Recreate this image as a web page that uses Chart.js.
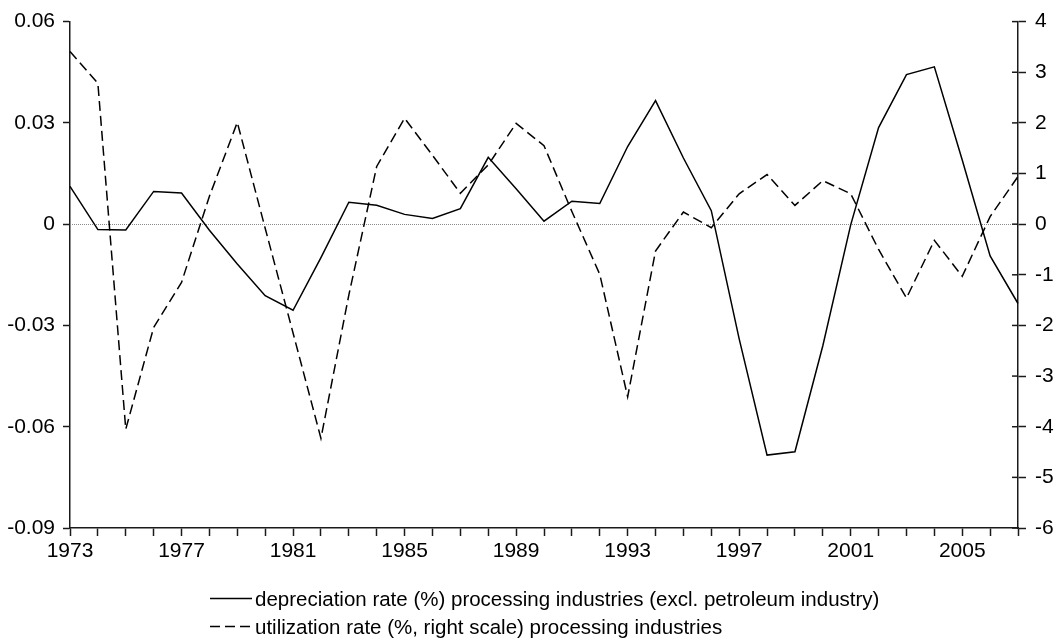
<!DOCTYPE html>
<html>
<head>
<meta charset="utf-8">
<title>Depreciation and utilization rates, processing industries</title>
<script src="https://cdn.jsdelivr.net/npm/chart.js@4.4.1/dist/chart.umd.min.js"></script>
<style>
  html, body { margin: 0; padding: 0; background: #fff; }
  #wrap { position: relative; width: 1055px; height: 639px; }
</style>
</head>
<body>
<div id="wrap"><canvas id="chart"></canvas></div>
<script>
// Years on the horizontal axis
const years = [1973, 1974, 1975, 1976, 1977, 1978, 1979, 1980, 1981, 1982,
               1983, 1984, 1985, 1986, 1987, 1988, 1989, 1990, 1991, 1992,
               1993, 1994, 1995, 1996, 1997, 1998, 1999, 2000, 2001, 2002,
               2003, 2004, 2005, 2006, 2007];

// Depreciation rate, processing industries excl. petroleum (left scale)
const depreciation = [0.0112, -0.0016, -0.0017, 0.0097, 0.0092, -0.0018, -0.0118, -0.0212, -0.0255, -0.0099,
                      0.0065, 0.0056, 0.0029, 0.0017, 0.0046, 0.0198, 0.0105, 0.0009, 0.0068, 0.0061,
                      0.0230, 0.0366, 0.0196, 0.0040, -0.0340, -0.0684, -0.0674, -0.0360, -0.0002, 0.0286,
                      0.0443, 0.0466, 0.0190, -0.0094, -0.0235];

// Utilization rate in %, processing industries (right scale)
const utilization = [3.41, 2.78, -4.05, -2.04, -1.15, 0.55, 2.01, -0.08, -2.15, -4.23,
                     -1.40, 1.14, 2.09, 1.36, 0.61, 1.17, 1.99, 1.55, 0.25, -0.99,
                     -3.41, -0.53, 0.24, -0.07, 0.60, 0.98, 0.37, 0.86, 0.60, -0.50,
                     -1.46, -0.32, -1.03, 0.15, 0.94];

// Axis ranges and tick steps
const leftTicks = { min: -0.09, max: 0.06, step: 0.03 };
const rightTicks = { min: -6, max: 4, step: 1 };
const labelEvery = 4;

const seriesNames = [
  'depreciation rate (%) processing industries (excl. petroleum industry)',
  'utilization rate (%, right scale) processing industries'
];

const FONT = "'Liberation Sans', Arial, Helvetica, sans-serif";
const INK = '#1a1a1a';

// Dotted zero reference line across the plot area
const zeroLine = {
  id: 'zeroLine',
  beforeDatasetsDraw(chart) {
    const { ctx, chartArea } = chart;
    const y = Math.round(chart.scales.y.getPixelForValue(0)) + 0.5;
    ctx.save();
    ctx.strokeStyle = '#8a8a8a';
    ctx.lineWidth = 1;
    ctx.setLineDash([1, 1]);
    ctx.beginPath();
    ctx.moveTo(chartArea.left, y);
    ctx.lineTo(chartArea.right, y);
    ctx.stroke();
    ctx.restore();
  }
};

// Right-axis tick marks also reach into the plot area
const innerTicks = {
  id: 'innerTicks',
  afterDraw(chart) {
    const { ctx } = chart;
    const s = chart.scales.y2;
    ctx.save();
    ctx.strokeStyle = INK;
    ctx.lineWidth = 1.5;
    s.ticks.forEach(t => {
      const y = s.getPixelForValue(t.value);
      ctx.beginPath();
      ctx.moveTo(s.left - 6, y);
      ctx.lineTo(s.left, y);
      ctx.stroke();
    });
    ctx.restore();
  }
};

// Two-row legend under the x axis
const bottomLegend = {
  id: 'bottomLegend',
  afterDraw(chart) {
    const { ctx } = chart;
    const x0 = 210, x1 = 252, tx = 255;
    const rows = [598.5, 626.5];
    ctx.save();
    chart.data.datasets.forEach((ds, i) => {
      const y = rows[i];
      ctx.strokeStyle = ds.borderColor;
      ctx.lineWidth = ds.borderWidth;
      ctx.setLineDash(ds.borderDash || []);
      ctx.beginPath();
      ctx.moveTo(x0, y);
      ctx.lineTo(x1, y);
      ctx.stroke();
      ctx.setLineDash([]);
      ctx.fillStyle = '#000';
      ctx.font = '20.5px ' + FONT;
      ctx.textBaseline = 'alphabetic';
      ctx.textAlign = 'left';
      ctx.fillText(ds.label, tx, y + 7);
    });
    ctx.restore();
  }
};

const fmtLeft = v => {
  const r = Math.round(v * 100) / 100;
  return r === 0 ? '0' : String(r);
};

new Chart(document.getElementById('chart'), {
  type: 'line',
  data: {
    labels: years,
    datasets: [
      {
        label: seriesNames[0],
        data: depreciation,
        yAxisID: 'y',
        borderColor: '#000',
        borderWidth: 1.5,
        pointRadius: 0,
        tension: 0,
        fill: false
      },
      {
        label: seriesNames[1],
        data: utilization,
        yAxisID: 'y2',
        borderColor: '#000',
        borderWidth: 1.5,
        borderDash: [10, 5],
        pointRadius: 0,
        tension: 0,
        fill: false
      }
    ]
  },
  options: {
    responsive: true,
    maintainAspectRatio: false,
    animation: false,
    events: [],
    layout: { padding: { top: 19, left: 0, right: 0, bottom: 0 } },
    plugins: {
      legend: { display: false },
      tooltip: { enabled: false }
    },
    scales: {
      x: {
        type: 'category',
        offset: false,
        afterFit: s => { s.height = 111; },
        border: { display: true, color: INK, width: 1.5 },
        grid: { drawOnChartArea: false, drawTicks: true, tickLength: 8, tickColor: INK, tickWidth: 1.5 },
        ticks: {
          autoSkip: false,
          maxRotation: 0,
          padding: 3,
          color: '#000',
          font: { family: FONT, size: 21 },
          callback: function (val, idx) {
            const yr = years[idx];
            return (yr - years[0]) % labelEvery === 0 ? String(yr) : '';
          }
        }
      },
      y: {
        position: 'left',
        min: leftTicks.min,
        max: leftTicks.max,
        afterFit: s => { s.width = 70; },
        border: { display: true, color: INK, width: 1.5 },
        grid: { drawOnChartArea: false, drawTicks: true, tickLength: 7, tickColor: INK, tickWidth: 1.5 },
        ticks: {
          stepSize: leftTicks.step,
          padding: 8,
          color: '#000',
          font: { family: FONT, size: 21 },
          callback: v => fmtLeft(v)
        }
      },
      y2: {
        position: 'right',
        min: rightTicks.min,
        max: rightTicks.max,
        afterFit: s => { s.width = 37; },
        border: { display: true, color: INK, width: 1.5 },
        grid: { drawOnChartArea: false, drawTicks: true, tickLength: 8, tickColor: INK, tickWidth: 1.5 },
        ticks: {
          stepSize: rightTicks.step,
          padding: 9,
          color: '#000',
          font: { family: FONT, size: 21 },
          callback: v => String(v)
        }
      }
    }
  },
  plugins: [zeroLine, innerTicks, bottomLegend]
});
</script>
</body>
</html>
